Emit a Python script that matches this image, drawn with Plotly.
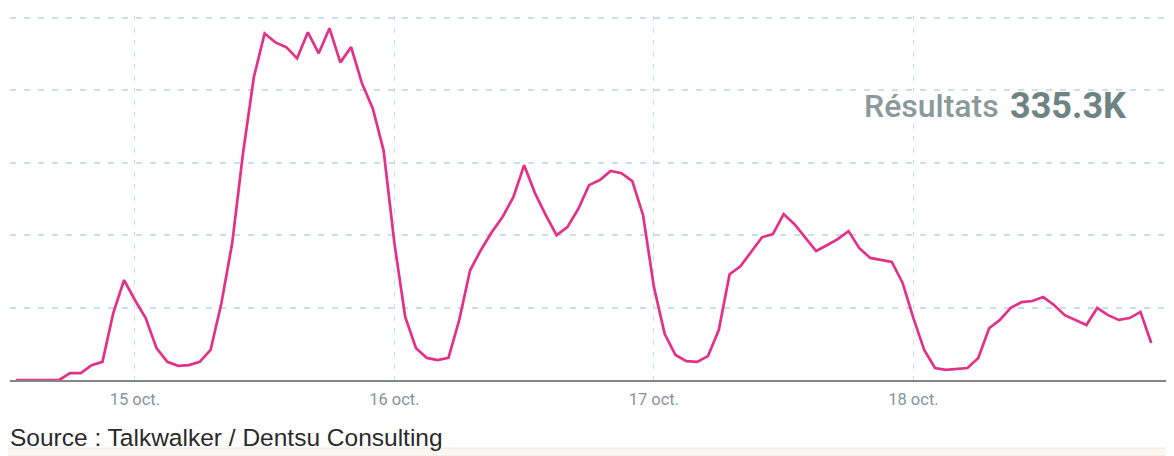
import pandas as pd
import plotly.graph_objects as go

# ---- data (thousands of results per hour) ----
start_time = "2019-10-14 13:00"
values_k = [
    0.0, 0.0, 0.0, 0.0, 0.0, 0.19, 0.19, 0.41, 0.50, 1.85,
    2.76, 2.21, 1.71, 0.88, 0.50, 0.39, 0.41, 0.50, 0.83, 2.12,
    3.78, 6.26, 8.36, 9.57, 9.32, 9.19, 8.88, 9.60, 9.02, 9.71,
    8.77, 9.19, 8.19, 7.50, 6.34, 3.78, 1.74, 0.88, 0.61, 0.55,
    0.61, 1.66, 3.03, 3.59, 4.08, 4.50, 5.05, 5.93, 5.16, 4.55,
    4.00, 4.22, 4.72, 5.38, 5.52, 5.77, 5.71, 5.49, 4.55, 2.57,
    1.27, 0.69, 0.52, 0.50, 0.66, 1.38, 2.92, 3.14, 3.53, 3.94,
    4.03, 4.58, 4.30, 3.94, 3.56, 3.72, 3.89, 4.11, 3.64, 3.37,
    3.31, 3.26, 2.68, 1.71, 0.83, 0.33, 0.28, 0.30, 0.33, 0.61,
    1.43, 1.66, 1.99, 2.15, 2.18, 2.29, 2.07, 1.79, 1.66, 1.52,
    1.99, 1.79, 1.66, 1.71, 1.88, 1.02,
]
tick_dates = ["2019-10-15", "2019-10-16", "2019-10-17", "2019-10-18"]
tick_labels = ["15 oct.", "16 oct.", "17 oct.", "18 oct."]
y_grid = [2, 4, 6, 8, 10]
total_label = "335.3K"
source_text = "Source : Talkwalker / Dentsu Consulting"

times = pd.date_range(start=start_time, periods=len(values_k), freq="h")

fig = go.Figure()
fig.add_trace(go.Scatter(
    x=times, y=values_k, mode="lines",
    line=dict(color="#e3318a", width=2.7),
    hoverinfo="skip", showlegend=False,
))

grid_col = "#c9dff0"
# the page body adds an 8px offset, so the figure is 8px smaller than the window
fig.update_layout(
    width=1166, height=448,
    margin=dict(l=2, r=0, t=8, b=76, autoexpand=False),
    paper_bgcolor="white", plot_bgcolor="white",
    xaxis=dict(
        range=["2019-10-14 12:27", "2019-10-19 00:06"],
        tickvals=tick_dates, ticktext=tick_labels,
        showgrid=True, gridcolor=grid_col, griddash="5px,7px", gridwidth=1,
        showline=True, linecolor="#858585", linewidth=2,
        zeroline=False, ticks="",
        tickfont=dict(family="Roboto", size=16.5, color="#8494a0"),
        ticklabelstandoff=3,
    ),
    yaxis=dict(
        range=[0, 10.05], tickvals=y_grid, showticklabels=False,
        showgrid=True, gridcolor=grid_col, griddash="6px,8px", gridwidth=1.5,
        zeroline=False, showline=False, ticks="",
    ),
    shapes=[
        dict(type="rect", xref="paper", yref="paper",
             x0=0.7234, x1=0.9777, y0=0.681, y1=0.824,
             fillcolor="white", line=dict(width=0), layer="between"),
        dict(type="rect", xref="paper", yref="paper",
             x0=-0.005, x1=1.0, y0=-0.209, y1=-0.187,
             fillcolor="#fcf7f1", line=dict(color="#f0e6dc", width=1), layer="below"),
    ],
    annotations=[
        dict(text="Résultats", xref="paper", yref="paper",
             x=0.851, y=0.753, xanchor="right", yanchor="middle", showarrow=False,
             font=dict(family="Roboto", size=32, color="#8a9a9a", weight=500)),
        dict(text="<b>" + total_label + "</b>", xref="paper", yref="paper",
             x=0.857, y=0.753, xanchor="left", yanchor="middle", showarrow=False,
             font=dict(family="Roboto", size=36, color="#6e8383")),
        dict(text=source_text, xref="paper", yref="paper",
             x=-0.0017, y=-0.159, xanchor="left", yanchor="middle", showarrow=False,
             font=dict(family="Liberation Sans", size=24.5, color="#2a2a2a")),
    ],
)

fig.write_html("out.html")
